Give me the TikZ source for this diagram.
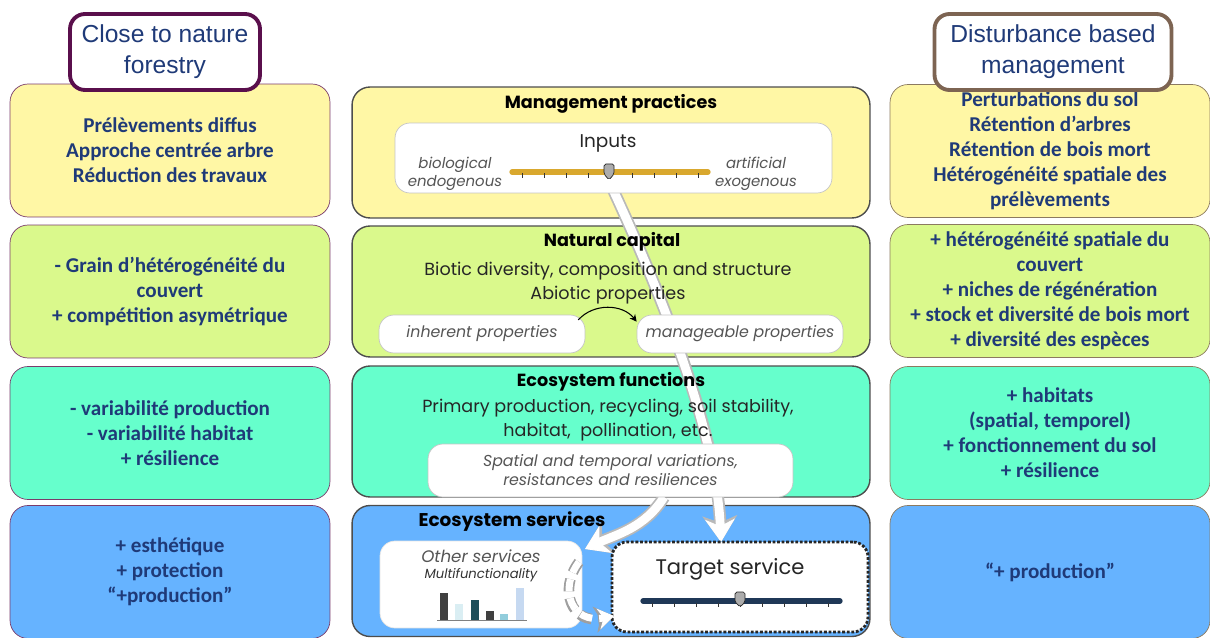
\documentclass[tikz,border=0pt]{standalone}
\usepackage{fontspec}
\usetikzlibrary{arrows.meta}
\newfontfamily\calib{Carlito}
\newfontfamily\arial{Liberation Sans}
\newfontfamily\gothic{Poppins}
\definecolor{navytext}{HTML}{1F3A78}
\definecolor{yel}{HTML}{FFF7A5}
\definecolor{grn}{HTML}{DAF98C}
\definecolor{aqua}{HTML}{66FFCC}
\definecolor{sky}{HTML}{66B3FF}
\definecolor{plumline}{HTML}{7A3B6B}
\definecolor{brownline}{HTML}{8C7A60}
\definecolor{midline}{HTML}{4D4D4D}
\definecolor{headplum}{HTML}{5A0F4C}
\definecolor{headbrown}{HTML}{7D6452}
\definecolor{gold}{HTML}{D9A82E}
\definecolor{slidenavy}{HTML}{1F3857}
\definecolor{itgray}{HTML}{555555}
\definecolor{barpale}{HTML}{DAEEF3}
\definecolor{barteal}{HTML}{1F4E5A}
\definecolor{barcyan}{HTML}{92CDDC}
\definecolor{barblue}{HTML}{C6D9F1}
\begin{document}
\begin{tikzpicture}[x=0.02cm, y=-0.02cm,
			sidebox/.style={
				rounded corners=0.36cm,
				minimum width=6.4cm,
				minimum height=2.66cm,
				align=center,
				text=navytext,
				font=\calib\bfseries\fontsize{12}{14.2}\selectfont
			},
			leftbox/.style={sidebox, draw=plumline},
			rightbox/.style={sidebox, draw=brownline},
			midbox/.style={
				draw=midline,
				line width=0.8pt,
				rounded corners=0.36cm,
				minimum width=10.36cm,
				minimum height=2.62cm
			},
			head/.style={
				line width=2.2pt,
				fill=white,
				rounded corners=0.3cm,
				minimum height=1.52cm,
				align=center,
				text=navytext,
				font=\arial\fontsize{14}{17.6}\selectfont
			},
			title/.style={font=\gothic\bfseries\fontsize{10}{12}\selectfont, text=black},
			body/.style={align=center, text=black!85, font=\gothic\fontsize{10}{13.6}\selectfont},
			innerbox/.style={
				draw=gray!45,
				fill=white,
				rounded corners=0.3cm,
				align=center,
				text=itgray,
				font=\gothic\itshape\fontsize{9}{10.8}\selectfont
			},
			side/.style={text=itgray, align=center, font=\gothic\itshape\fontsize{8.5}{10.5}\selectfont},
			warrow/.style={
				draw=white,
				line width=5pt,
				-{Stealth[length=13pt,width=17pt,inset=4pt,line width=0.5pt]},
				preaction={draw=gray!55, line width=7pt, -{Stealth[length=15pt,width=20pt,inset=4pt,line width=0.5pt]}}
			},
			dwarrow/.style={
				draw=white,
				line width=4pt,
				dash pattern=on 7pt off 4pt,
				-{Stealth[length=9pt,width=12pt,inset=3pt,line width=0.5pt]},
				preaction={draw=gray!75, line width=6pt, dash pattern=on 7pt off 4pt, -{Stealth[length=11pt,width=15pt,inset=3pt,line width=0.5pt]}}
			}
			]
			\useasboundingbox (0,0) rectangle (1210,638);
			%---------------- LEFT COLUMN ----------------
			\node[leftbox, fill=yel] (l1) at (170,150.5) {Prélèvements diffus\\Approche centrée arbre\\Réduction des travaux};
			\node[leftbox, fill=grn] (l2) at (170,291.5) {- Grain d’hétérogénéité du\\couvert\\+ compétition asymétrique};
			\node[leftbox, fill=aqua] (l3) at (170,433) {- variabilité production\\- variabilité habitat\\+ résilience};
			\node[leftbox, fill=sky] (l4) at (170,572) {+ esthétique\\+ protection\\“+production”};
			\node[head, draw=headplum, minimum width=3.8cm] (lhead) at (165,52) {Close to nature\\forestry};
			%---------------- RIGHT COLUMN ----------------
			\node[rightbox, fill=yel] (r1) at (1050,151) {Perturbations du sol\\Rétention d’arbres\\Rétention de bois mort\\Hétérogénéité spatiale des\\prélèvements};
			\node[rightbox, fill=grn] (r2) at (1050,291) {+ hétérogénéité spatiale du\\couvert\\+ niches de régénération\\+ stock et diversité de bois mort\\+ diversité des espèces};
			\node[rightbox, fill=aqua] (r3) at (1050,433) {+ habitats\\(spatial, temporel)\\+ fonctionnement du sol\\+ résilience};
			\node[rightbox, fill=sky] (r4) at (1050,572) {“+ production”};
			\node[head, draw=headbrown, minimum width=4.74cm] (rhead) at (1053,52) {Disturbance based\\management};
			%---------------- MIDDLE COLUMN ----------------
			\node[midbox, fill=yel] (mgmt) at (611,152.5) {};
			\node[midbox, fill=grn] (natcap) at (611,291.5) {};
			\node[midbox, fill=aqua] (ecofun) at (611,431.5) {};
			\node[midbox, fill=sky] (ecoserv) at (611,571) {};
			% white arrows
			\coordinate (knob) at (609,181);
			\coordinate (tgtin) at (721,542);
			\coordinate (funout) at (664,497);
			\coordinate (othin) at (585,549);
			\draw[warrow] (knob) .. controls (660,290) and (716,430) .. (tgtin);
			\draw[warrow] (funout) .. controls (645,528) and (615,535) .. (othin);
			%---------------- Management practices ----------------
			\node[title] (mgmttitle) at (611,104) {Management practices};
			\node[innerbox, minimum width=8.74cm, minimum height=1.4cm] (inputs) at (613.5,158) {};
			\node[body, font=\gothic\fontsize{10.5}{12}\selectfont] (inputstxt) at (608,143) {Inputs};
			\node[side] (bio) at (455,174) {biological\\endogenous};
			\node[side] (art) at (756,174) {artificial\\exogenous};
			\draw[gold, line width=3pt, line cap=round] (512,172) -- (708,172);
			\foreach \t in {522,544,...,698}
				\draw[gray!40!black, line width=0.5pt] (\t,173.5) -- (\t,178);
			\draw[fill=gray!65, draw=gray!30!black, line width=0.4pt, rounded corners=1pt] (604,164) -- (614,164) -- (614,174) -- (609,180) -- (604,174) -- cycle;
			%---------------- Natural capital ----------------
			\node[title] (nctitle) at (612,242) {Natural capital};
			\node[body] (ncbody) at (608,283) {Biotic diversity, composition and structure\\Abiotic properties};
			\node[innerbox, minimum width=4.12cm, minimum height=0.76cm] (inh) at (482,334) {inherent properties};
			\node[innerbox, minimum width=4.12cm, minimum height=0.76cm] (man) at (740,334) {manageable properties};
			\draw[black, line width=0.6pt, -{Stealth[length=4pt,width=4pt]}] ([xshift=-4pt,yshift=-3pt]inh.north east) to[bend left=50] ([yshift=-4pt]man.north west);
			%---------------- Ecosystem functions ----------------
			\node[title] (eftitle) at (611,382) {Ecosystem functions};
			\node[body] (efbody) at (608,420.5) {Primary production, recycling, soil stability,\\habitat,\ \ pollination, etc.};
			\node[innerbox, minimum width=7.3cm, minimum height=1.06cm] (spatial) at (610.5,470.5) {Spatial and temporal variations,\\resistances and resiliences};
			%---------------- Ecosystem services ----------------
			\node[title, font=\gothic\bfseries\fontsize{10.5}{12}\selectfont] (estitle) at (512,522) {Ecosystem services};
			\node[innerbox, draw=gray!20, minimum width=4.04cm, minimum height=1.74cm] (other) at (481,584.5) {};
			\node[side, font=\gothic\itshape\fontsize{9.5}{11}\selectfont] (othtxt) at (481,556) {Other services};
			\node[side, text=black!80, font=\gothic\itshape\fontsize{7.5}{9}\selectfont] (multi) at (481,575) {Multifunctionality};
			\fill[gray!50!black] (440,620) rectangle (448,593);
			\fill[barpale] (455,620) rectangle (463,604);
			\fill[barteal] (471,620) rectangle (479,600);
			\fill[black!75] (486,620) rectangle (494,611);
			\fill[barcyan] (500,620) rectangle (508,614);
			\fill[barblue] (516,620) rectangle (524,588);
			\draw[gray, line width=0.5pt] (437,620) -- (527,620);
			\node[innerbox, draw=black!85, line width=1.6pt, densely dotted, minimum width=5.12cm, minimum height=1.8cm] (target) at (740,587) {};
			\node[body, font=\gothic\fontsize{12}{14}\selectfont] (tgttxt) at (730,569) {Target service};
			\draw[slidenavy, line width=3pt, line cap=round] (643,601) -- (840,601);
			\foreach \t in {652,674,...,828}
				\draw[gray!40!black, line width=0.5pt] (\t,602.5) -- (\t,607);
			\draw[fill=gray!65, draw=gray!30!black, line width=0.4pt, rounded corners=1pt] (735,592) -- (745,592) -- (745,602) -- (740,607) -- (735,602) -- cycle;
			% dashed arrow
			\coordinate (othout) at (579,562);
			\coordinate (tgtleft) at (614,616);
			\draw[dwarrow] (othout) .. controls (558,590) and (572,624) .. (tgtleft);
		\end{tikzpicture}
\end{document}
